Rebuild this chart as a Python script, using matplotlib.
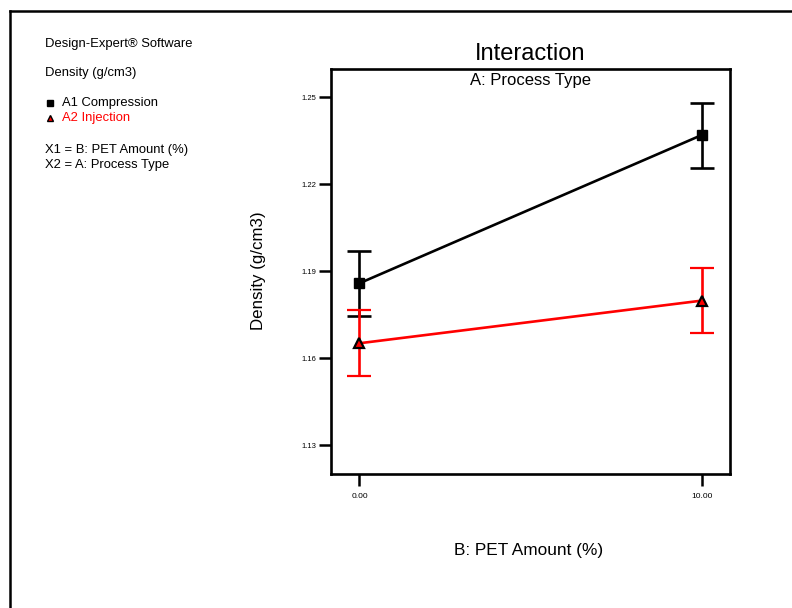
import matplotlib
matplotlib.use('Agg')
import matplotlib.pyplot as plt
from matplotlib.lines import Line2D

plt.rcParams['font.family'] = ['Liberation Sans', 'DejaVu Sans']

# datos
pet_amount = [0.0, 10.0]
a1_density = [1.1859, 1.2370]
a1_err = [0.0112, 0.0112]
a2_density = [1.1652, 1.1799]
a2_err = [0.0113, 0.0112]
y_ticks = [1.13, 1.16, 1.19, 1.22, 1.25]
x_ticks = [0.0, 10.0]

fig = plt.figure(figsize=(7.92, 6.08), dpi=100)
ax = fig.add_axes([0.418, 0.2204, 0.5037, 0.6661])

# marco exterior (solo arriba e izquierda)
fig.add_artist(Line2D([10 / 792, 1.0], [1 - 11 / 608, 1 - 11 / 608], transform=fig.transFigure, color='black', lw=1.8))
fig.add_artist(Line2D([10 / 792, 10 / 792], [0.0, 1 - 11 / 608], transform=fig.transFigure, color='black', lw=1.8))

ax.errorbar(pet_amount, a1_density, yerr=a1_err, color='black', lw=1.9, elinewidth=1.9,
            capsize=8.5, capthick=1.9, marker='s', markersize=7.5, mfc='black', mec='black', zorder=3)
ax.errorbar(pet_amount, a2_density, yerr=a2_err, color='red', lw=1.9, elinewidth=1.9,
            capsize=8.5, capthick=1.9, marker='^', markersize=7.5, mfc='red', mec='black', mew=1.6, zorder=3)

ax.set_xlim(-0.83, 10.83)
ax.set_ylim(1.1201, 1.2598)
ax.set_yticks(y_ticks)
ax.set_yticklabels(['%.2f' % v for v in y_ticks])
ax.set_xticks(x_ticks)
ax.set_xticklabels(['%.2f' % v for v in x_ticks])
ax.tick_params(direction='out', length=8.5, width=1.8, labelsize=5.5)
ax.tick_params(axis='x', pad=5, labelsize=6)
ax.tick_params(axis='y', pad=2)
for s in ax.spines.values():
    s.set_linewidth(1.9)

fig.text(530 / 792, 1 - 54 / 608, 'Interaction', ha='center', va='center', fontsize=17)
fig.text(530 / 792, 1 - 80 / 608, 'A: Process Type', ha='center', va='center', fontsize=12)
fig.text(529 / 792, 1 - 551 / 608, 'B: PET Amount (%)', ha='center', va='center', fontsize=12.4)
fig.text(258 / 792, 1 - 271 / 608, 'Density (g/cm3)', ha='center', va='center', rotation=90, fontsize=12.2)

# leyenda estilo Design-Expert
fs = 9.4
fig.text(45 / 792, 1 - 44 / 608, 'Design-Expert® Software', va='center', fontsize=fs)
fig.text(45 / 792, 1 - 73 / 608, 'Density (g/cm3)', va='center', fontsize=fs)
fig.add_artist(Line2D([50 / 792], [1 - 103 / 608], transform=fig.transFigure, marker='s', markersize=5,
                      color='black', ls='none'))
fig.text(62 / 792, 1 - 103 / 608, 'A1 Compression', va='center', fontsize=fs)
fig.add_artist(Line2D([50 / 792], [1 - 118 / 608], transform=fig.transFigure, marker='^', markersize=5,
                      mfc='red', mec='black', mew=1, ls='none'))
fig.text(62 / 792, 1 - 118 / 608, 'A2 Injection', va='center', fontsize=fs, color='red')
fig.text(45 / 792, 1 - 150 / 608, 'X1 = B: PET Amount (%)', va='center', fontsize=fs)
fig.text(45 / 792, 1 - 165 / 608, 'X2 = A: Process Type', va='center', fontsize=fs)

fig.savefig('out.png', dpi=100)
